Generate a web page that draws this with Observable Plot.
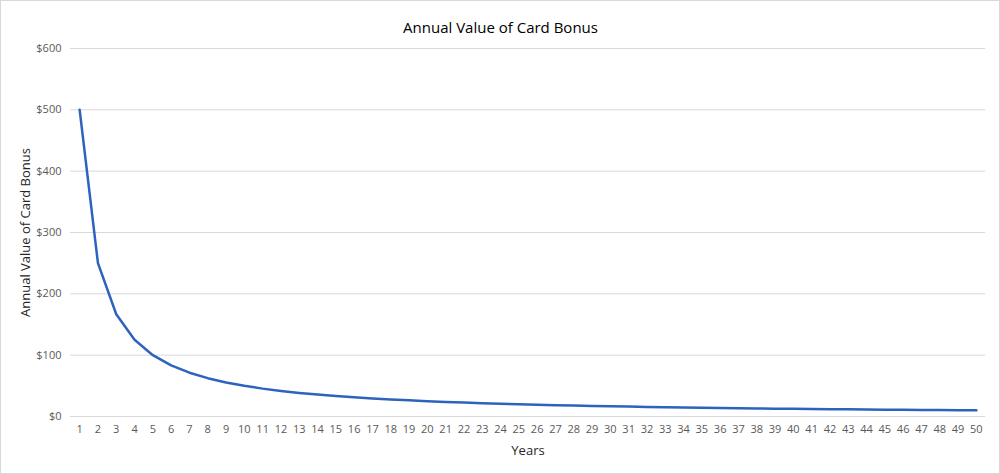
<!DOCTYPE html>
<html>
<head>
<meta charset="utf-8">
<script src="https://cdn.jsdelivr.net/npm/d3@7"></script>
<script src="https://cdn.jsdelivr.net/npm/@observablehq/plot@0.6"></script>
<style>
  html, body { margin: 0; padding: 0; background: #fff; }
  #wrap { position: relative; width: 1000px; height: 474px; }
  #border { position: absolute; left: 0; top: 0; width: 998px; height: 472px; border: 1px solid #d9d9d9; pointer-events: none; }
</style>
</head>
<body>
<div id="wrap"><div id="chart"></div><div id="border"></div></div>
<script>
const years = d3.range(1, 51);
const values = [500, 250, 166.67, 125, 100, 83.33, 71.43, 62.5, 55.56, 50,
  45.45, 41.67, 38.46, 35.71, 33.33, 31.25, 29.41, 27.78, 26.32, 25,
  23.81, 22.73, 21.74, 20.83, 20, 19.23, 18.52, 17.86, 17.24, 16.67,
  16.13, 15.63, 15.15, 14.71, 14.29, 13.89, 13.51, 13.16, 12.82, 12.5,
  12.2, 11.9, 11.63, 11.36, 11.11, 10.87, 10.64, 10.42, 10.2, 10];
const yTicks = [0, 100, 200, 300, 400, 500, 600];
const title = "Annual Value of Card Bonus";
const xLabel = "Years";
const yLabel = "Annual Value of Card Bonus";

const data = years.map((y, i) => ({year: y, value: values[i]}));
const font = "'Open Sans', 'Liberation Sans', sans-serif";

const chart = Plot.plot({
  width: 1000,
  height: 474,
  marginLeft: 70,
  marginRight: 15,
  marginTop: 48,
  marginBottom: 58,
  style: {fontFamily: font, background: "#fff", color: "#595959"},
  x: {domain: [0.5, 50.5]},
  y: {domain: [0, 600]},
  marks: [
    Plot.ruleY(yTicks, {stroke: "#d9d9d9", strokeWidth: 1}),
    Plot.axisY({ticks: yTicks, tickSize: 0, tickPadding: 9, tickFormat: d => "$" + d, fontSize: 11, fill: "#595959",
      label: yLabel, labelAnchor: "center", labelArrow: "none", labelOffset: 50}),
    Plot.axisX({ticks: years, tickSize: 0, tickPadding: 9, tickFormat: d3.format("d"), fontSize: 11, fill: "#595959",
      label: xLabel, labelAnchor: "center", labelArrow: "none", labelOffset: 38}),
    Plot.line(data, {x: "year", y: "value", stroke: "#2e63bd", strokeWidth: 2.5}),
    Plot.text([title], {frameAnchor: "top", dy: -26, dx: -27.5, fontSize: 15, fill: "#000", text: d => d})
  ]
});
document.getElementById("chart").appendChild(chart);
chart.querySelectorAll("g[aria-label='y-axis label'] text, g[aria-label='x-axis label'] text").forEach(t => {
  t.setAttribute("font-size", "13");
  t.setAttribute("fill", "#262626");
});
</script>
</body>
</html>
